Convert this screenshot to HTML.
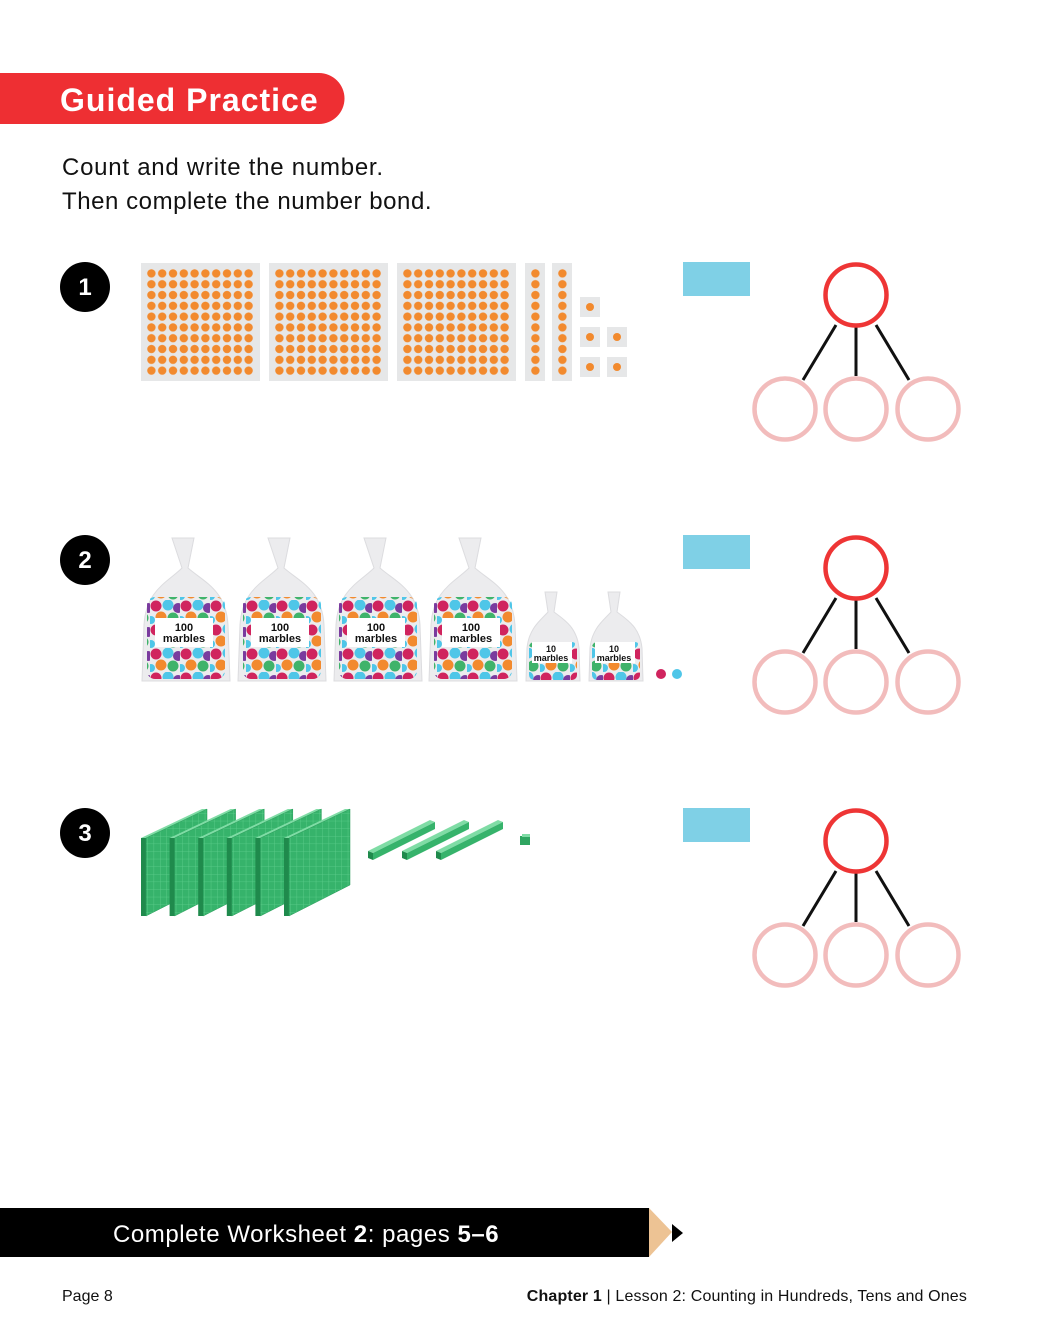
<!DOCTYPE html>
<html><head><meta charset="utf-8"><style>
html,body{margin:0;padding:0;background:#fff}
svg{display:block}
text{font-family:"Liberation Sans",sans-serif}
</style></head><body>
<svg width="1040" height="1330" viewBox="0 0 1040 1330" xmlns="http://www.w3.org/2000/svg">
<defs>
<pattern id="dots" x="146" y="268" width="10.8" height="10.8" patternUnits="userSpaceOnUse">
<circle cx="5.4" cy="5.4" r="4.2" fill="#f28a2e"/></pattern>
<pattern id="marb" x="0" y="0" width="30" height="24" patternUnits="userSpaceOnUse">
<circle cx="6" cy="6" r="5.5" fill="#d0245e"/><circle cx="18" cy="5" r="5.5" fill="#4fc6e8"/>
<circle cx="28" cy="8" r="5" fill="#7a3b9e"/><circle cx="11" cy="17" r="5.5" fill="#f28a2e"/>
<circle cx="23" cy="18" r="5.5" fill="#3fb36a"/><circle cx="1" cy="20" r="4" fill="#4fc6e8"/></pattern>
<pattern id="grid" width="6.4" height="7.6" patternUnits="userSpaceOnUse">
<rect width="6.4" height="7.6" fill="#36b36b"/><path d="M0 0H6.4M0 0V7.6" stroke="#5fcf8d" stroke-width="0.8"/></pattern>
</defs>

<path d="M0 73 H319 A25.5 25.5 0 0 1 319 124 H0 Z" fill="#ee2f33"/>
<text x="60" y="111" font-size="32" font-weight="bold" fill="#fff" letter-spacing="1">Guided Practice</text>
<text x="62" y="175" font-size="24" fill="#111" letter-spacing="0.75">Count and write the number.</text>
<text x="62" y="209" font-size="24" fill="#111" letter-spacing="0.55">Then complete the number bond.</text>

<g font-size="24" font-weight="bold" fill="#fff" text-anchor="middle">
<circle cx="85" cy="287" r="25" fill="#000"/><text x="85" y="295">1</text>
<circle cx="85" cy="560" r="25" fill="#000"/><text x="85" y="568">2</text>
<circle cx="85" cy="833" r="25" fill="#000"/><text x="85" y="841">3</text>
</g>

<rect x="683" y="262" width="67" height="34" fill="#7fd0e6"/>
<rect x="683" y="535" width="67" height="34" fill="#7fd0e6"/>
<rect x="683" y="808" width="67" height="34" fill="#7fd0e6"/>

<g id="bond" fill="none">
<path d="M836 325 L803 380 M856 327 L856 376 M876 325 L909 380" stroke="#111" stroke-width="3"/>
<circle cx="856" cy="295" r="30.5" stroke="#ee3535" stroke-width="4.5"/>
<circle cx="785" cy="409" r="30.5" stroke="#f2bcbc" stroke-width="4.5"/>
<circle cx="856" cy="409" r="30.5" stroke="#f2bcbc" stroke-width="4.5"/>
<circle cx="928" cy="409" r="30.5" stroke="#f2bcbc" stroke-width="4.5"/>
</g>
<use href="#bond" y="273"/>
<use href="#bond" y="546"/>

<g fill="#e6e7e8">
<rect x="141" y="263" width="119" height="118"/>
<rect x="269" y="263" width="119" height="118"/>
<rect x="397" y="263" width="119" height="118"/>
<rect x="525" y="263" width="20" height="118"/>
<rect x="552" y="263" width="20" height="118"/>
<rect x="580" y="297" width="20" height="20"/>
<rect x="580" y="327" width="20" height="20"/><rect x="607" y="327" width="20" height="20"/>
<rect x="580" y="357" width="20" height="20"/><rect x="607" y="357" width="20" height="20"/>
</g>
<rect x="146" y="268" width="108" height="108" fill="url(#dots)"/>
<g transform="translate(128,0)"><rect x="146" y="268" width="108" height="108" fill="url(#dots)"/></g>
<g transform="translate(256,0)"><rect x="146" y="268" width="108" height="108" fill="url(#dots)"/></g>
<g transform="translate(384,0)"><rect x="146" y="268" width="10.8" height="108" fill="url(#dots)"/></g>
<g transform="translate(411,0)"><rect x="146" y="268" width="10.8" height="108" fill="url(#dots)"/></g>
<g fill="#f28a2e">
<circle cx="590" cy="307" r="4"/><circle cx="590" cy="337" r="4"/><circle cx="617" cy="337" r="4"/>
<circle cx="590" cy="367" r="4"/><circle cx="617" cy="367" r="4"/></g>

<g id="bag">
<path d="M172 538 L194 538 L188 568 C204 582 226 590 228 625 L230 681 L142 681 L144 625 C146 590 168 582 182 568 Z" fill="#ececee" stroke="#dcdcdf"/>
<rect x="147" y="597" width="78" height="82" rx="8" fill="url(#marb)"/>
<rect x="155" y="618" width="58" height="29" fill="#fff"/>
<text x="184" y="631" font-size="11" font-weight="bold" text-anchor="middle" fill="#111">100</text>
<text x="184" y="642" font-size="11" font-weight="bold" text-anchor="middle" fill="#111">marbles</text>
</g>
<use href="#bag" x="96"/><use href="#bag" x="192"/><use href="#bag" x="287"/>
<g id="sbag">
<path d="M545 592 L557 592 L554 612 C565 620 577 628 579 648 L580 681 L526 681 L527 648 C529 628 541 620 548 612 Z" fill="#ececee" stroke="#dcdcdf"/>
<rect x="529" y="642" width="48" height="38" rx="5" fill="url(#marb)"/>
<rect x="532" y="642" width="40" height="21" fill="#fff"/>
<text x="551" y="652" font-size="9" font-weight="bold" text-anchor="middle" fill="#111">10</text>
<text x="551" y="661" font-size="9" font-weight="bold" text-anchor="middle" fill="#111">marbles</text>
</g>
<use href="#sbag" x="63"/>
<circle cx="661" cy="674" r="5" fill="#d0245e"/><circle cx="677" cy="674" r="5" fill="#4fc6e8"/>

<g id="flat">
<path d="M141 838 L202 809 L207 809 L146 838 Z" fill="#7fdca5"/>
<path d="M141 838 L146 838 L146 916 L141 916 Z" fill="#1f8a4c"/>
<path d="M146 838 L207 809 L207 885 L146 916 Z" fill="url(#grid)" stroke="#2b9c5b" stroke-width="0.5"/>
</g>
<use href="#flat" x="28.6"/><use href="#flat" x="57.2"/><use href="#flat" x="85.8"/><use href="#flat" x="114.4"/><use href="#flat" x="143"/>

<g id="rod">
<path d="M368 851 L430 820 L435 822 L373 853 Z" fill="#7fdca5"/>
<path d="M368 851 L373 853 L373 860 L368 858 Z" fill="#1f8a4c"/>
<path d="M373 853 L435 822 L435 829 L373 860 Z" fill="#36b36b"/>
</g>
<use href="#rod" x="34"/><use href="#rod" x="68"/>
<rect x="520" y="836" width="10" height="9" fill="#2fa561"/>
<rect x="522" y="834" width="8" height="3" fill="#7fdca5"/>

<rect x="0" y="1208" width="649" height="49" fill="#000"/>
<path d="M649 1208 L672 1232 L649 1257 Z" fill="#edc394"/>
<path d="M672 1224 L683 1233 L672 1242 Z" fill="#000"/>
<text x="113" y="1242" font-size="24" fill="#fff" letter-spacing="0.55">Complete Worksheet <tspan font-weight="bold">2</tspan>: pages <tspan font-weight="bold">5–6</tspan></text>

<text x="62" y="1301" font-size="16" fill="#111">Page 8</text>
<text x="967" y="1301" font-size="16" fill="#111" text-anchor="end" letter-spacing="0.15"><tspan font-weight="bold">Chapter 1</tspan> | Lesson 2: Counting in Hundreds, Tens and Ones</text>
</svg>
</body></html>
